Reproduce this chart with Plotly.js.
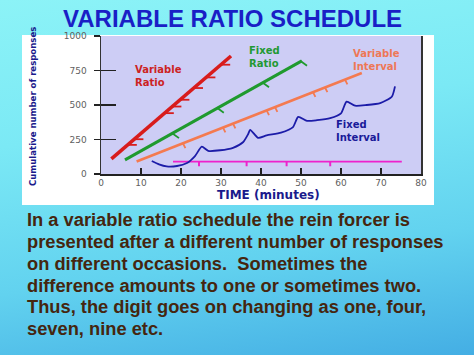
<!DOCTYPE html>
<html>
<head>
<meta charset="utf-8">
<script src="https://cdn.plot.ly/plotly-3.0.1.min.js"></script>
<style>
html,body{margin:0;padding:0;width:474px;height:355px;overflow:hidden;}
#wrap{width:474px;height:355px;background:linear-gradient(172deg,#8cf3f7 0%,#7be9f5 35%,#62d2ef 70%,#44aee4 100%);}
#chart{width:474px;height:355px;}
</style>
</head>
<body>
<div id="wrap"><div id="chart"></div></div>
<script>
// ---- data (time in minutes, cumulative responses) ----
const varRatioT = [2.6, 32.5];
const varRatioR = [110, 855];
const varRatioMarkT = [6.65, 8.3, 15.9, 17.8, 19.8, 23.2, 26.3, 30.0];
const varRatioMarkR = [211, 252, 441, 489, 538, 623, 700, 792];

const fixRatioT = [6.0, 50.2];
const fixRatioR = [102, 820];
const fixRatioMarkT = [17.8, 29.0, 40.3, 49.8];
const fixRatioMarkR = [296, 480, 665, 820];

const varIntT = [8.9, 65.2];
const varIntR = [90, 732];
const varIntMarkT = [20.5, 30.5, 33.0, 41.4, 43.5, 53.0, 56.0, 61.0];
const varIntMarkR = [222, 336, 365, 461, 484, 593, 627, 684];

const fixIntT = [12.7, 14.5, 16.4, 19.0, 21.5, 23.5, 25.2, 26.8, 29.8, 33.0, 35.5, 36.8, 37.3, 39.3, 41.4, 45.0, 48.0, 49.3, 51.5, 54.0, 57.3, 60.0, 61.4, 63.5, 66.4, 69.8, 72.7, 73.5];
const fixIntR = [94, 70, 55, 58, 80, 130, 198, 168, 172, 190, 230, 290, 320, 262, 280, 300, 340, 414, 385, 390, 405, 440, 525, 495, 500, 514, 560, 635];

const reinfT = [18, 75.2];
const reinfR = [90, 90];
const reinfMarkT = [24.5, 36.4, 46.4, 57.3];
const reinfMarkR = [90, 90, 90, 90];

const xTicks = [0, 10, 20, 30, 40, 50, 60, 70, 80];
const yTicks = [0, 250, 500, 750, 1000];

const titleText = 'VARIABLE RATIO SCHEDULE';
const bodyLines = [
  'In a variable ratio schedule the rein forcer is',
  'presented after a different number of responses',
  'on different occasions.  Sometimes the',
  'difference amounts to one or sometimes two.',
  'Thus, the digit goes on changing as one, four,',
  'seven, nine etc.'
];

// ---- helpers ----
const W = 474, H = 355;
const px = x => x / W;
const py = y => 1 - y / H;
function segs(ts, rs, dt, dr) {
  const xs = [], ys = [];
  for (let i = 0; i < ts.length; i++) {
    xs.push(ts[i], ts[i] + dt, null);
    ys.push(rs[i], rs[i] + dr, null);
  }
  return {x: xs, y: ys};
}

const RED = '#d81c1c', GREEN = '#1f9a2e', ORANGE = '#f47a50', BLUE = '#1c1ca8', PINK = '#ee22cc';

const vrm = segs(varRatioMarkT, varRatioMarkR, 2.3, 0);
const frm = segs(fixRatioMarkT, fixRatioMarkR, 1.7, -36);
const vim = segs(varIntMarkT, varIntMarkR, 0.6, -34);
const rim = segs(reinfMarkT, reinfMarkR, 0, -34);

const traces = [
  {x: reinfT, y: reinfR, mode: 'lines', line: {color: PINK, width: 1.6}},
  {x: rim.x, y: rim.y, mode: 'lines', line: {color: PINK, width: 2}, yaxis: 'y2'},
  {x: fixIntT, y: fixIntR, mode: 'lines', line: {color: BLUE, width: 1.8, shape: 'spline', smoothing: 0.6}},
  {x: varIntT, y: varIntR, mode: 'lines', line: {color: ORANGE, width: 2.6}},
  {x: vim.x, y: vim.y, mode: 'lines', line: {color: ORANGE, width: 1.8}},
  {x: fixRatioT, y: fixRatioR, mode: 'lines', line: {color: GREEN, width: 3}},
  {x: frm.x, y: frm.y, mode: 'lines', line: {color: GREEN, width: 1.8}},
  {x: varRatioT, y: varRatioR, mode: 'lines', line: {color: RED, width: 3.6}},
  {x: vrm.x, y: vrm.y, mode: 'lines', line: {color: RED, width: 1.8}}
];

function lab(text, x, y, color) {
  return {text: text, xref: 'paper', yref: 'paper', x: px(x), y: py(y), xanchor: 'left', yanchor: 'middle', align: 'left',
    showarrow: false, font: {family: 'DejaVu Sans, sans-serif', size: 10, color: color, weight: 'bold'}};
}

const annotations = [
  {text: titleText, xref: 'paper', yref: 'paper', x: px(232), y: py(18), xanchor: 'center', yanchor: 'middle', showarrow: false,
   font: {family: 'Liberation Sans, Arial, sans-serif', size: 24, color: '#1a1fc6', weight: 'bold'}},
  {text: 'Cumulative number of responses', xref: 'paper', yref: 'paper', x: px(32), y: py(107), xanchor: 'center', yanchor: 'middle',
   textangle: -90, showarrow: false,
   font: {family: 'DejaVu Sans Condensed, Liberation Sans Narrow, sans-serif', size: 9.5, color: '#1a1a8c', weight: 'bold'}},
  {text: 'TIME (minutes)', xref: 'paper', yref: 'paper', x: px(268), y: py(195), xanchor: 'center', yanchor: 'middle', showarrow: false,
   font: {family: 'DejaVu Sans, sans-serif', size: 12, color: '#1a1a8c', weight: 'bold'}},
  lab('Variable<br>Ratio', 133, 76.5, '#cc2222'),
  lab('Fixed<br>Ratio', 247, 57.3, '#229933'),
  lab('Variable<br>Interval', 351, 59.5, '#ee7755'),
  lab('Fixed<br>Interval', 334, 131.5, '#1a1a99')
];
const lineY = [220, 241.7, 263.3, 285, 306.7, 328.3];
bodyLines.forEach((t, i) => {
  annotations.push({text: t, xref: 'paper', yref: 'paper', x: px(25), y: py(lineY[i]), xanchor: 'left', yanchor: 'middle',
    showarrow: false, font: {family: 'Liberation Sans, Arial, sans-serif', size: 18.3, color: '#45260f', weight: 'bold'}});
});

const tickFont = {family: 'DejaVu Sans, sans-serif', size: 9, color: '#606060'};
const layout = {
  width: W, height: H,
  margin: {l: 0, r: 0, t: 0, b: 0, pad: 0},
  paper_bgcolor: 'rgba(0,0,0,0)',
  plot_bgcolor: 'rgba(0,0,0,0)',
  showlegend: false,
  xaxis: {domain: [px(101), px(421)], range: [0, 80], tickmode: 'array', tickvals: xTicks, ticktext: xTicks.map(String),
    ticks: 'inside', ticklen: 6, tickwidth: 1.5, tickcolor: '#222', showline: true, linecolor: '#222', linewidth: 1.5,
    showgrid: false, zeroline: false, tickfont: tickFont, fixedrange: true},
  yaxis: {domain: [py(174), py(36)], range: [0, 1000], tickmode: 'array', tickvals: yTicks, ticktext: yTicks.map(String),
    ticks: 'outside', ticklen: 6, tickwidth: 1.5, tickcolor: '#222', showline: true, mirror: true, linecolor: '#333', linewidth: 1.5,
    showgrid: false, zeroline: false, tickfont: tickFont, ticklabelstandoff: 5, fixedrange: true},
  yaxis2: {overlaying: 'y', side: 'left', anchor: 'x', range: [0, 1000], tickmode: 'array', tickvals: yTicks,
    ticks: 'inside', ticklen: 15, tickwidth: 1.5, tickcolor: '#222', showticklabels: false, showline: false,
    showgrid: false, zeroline: false, fixedrange: true},
  shapes: [
    {type: 'rect', xref: 'paper', yref: 'paper', x0: px(22), x1: px(434), y0: py(205), y1: py(35), layer: 'below',
     fillcolor: '#ffffff', line: {width: 0}},
    {type: 'rect', xref: 'x domain', yref: 'y domain', x0: 0, x1: 1, y0: 0, y1: 1, layer: 'below',
     fillcolor: '#cdcdf5', line: {width: 0}}
  ],
  annotations: annotations
};

Plotly.newPlot('chart', traces, layout, {staticPlot: true, displayModeBar: false});
</script>
</body>
</html>
